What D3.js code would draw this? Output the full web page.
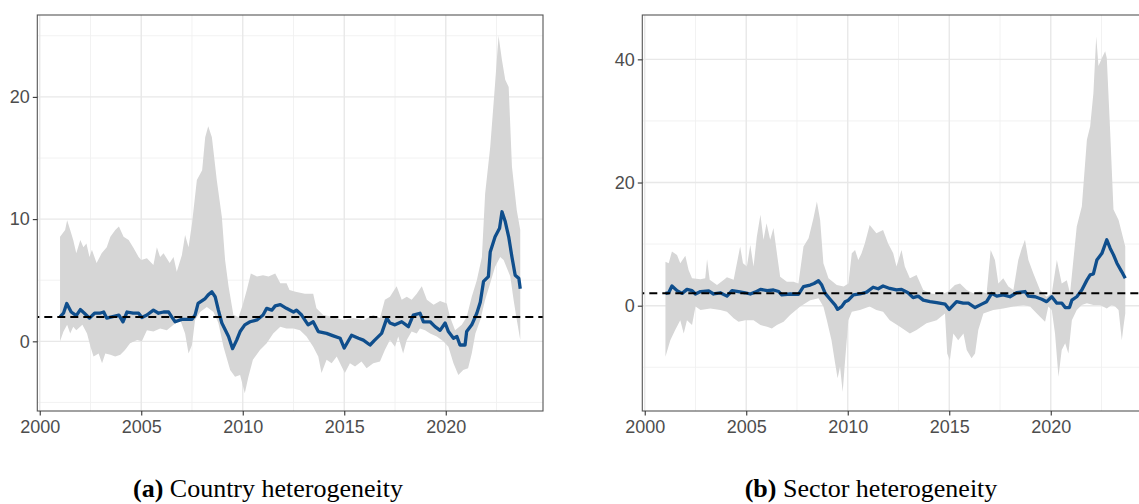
<!DOCTYPE html>
<html>
<head>
<meta charset="utf-8">
<script src="https://cdn.jsdelivr.net/npm/d3@7"></script>
<style>
  html, body { margin: 0; padding: 0; background: #fff; }
  svg { display: block; }
  .tick text { font-family: "Liberation Sans", Arial, sans-serif; }
</style>
</head>
<body>
<svg id="fig" width="1139" height="504"></svg>
<script>
// Shared axis ticks
const yearTicks = [2000, 2005, 2010, 2015, 2020];
const yearMinor = [2002.5, 2007.5, 2012.5, 2017.5, 2022.5];
const referenceLevel = 2;

// Panel (a): country heterogeneity — [year, value]
const countryMean = [
  [2001.0,2.0],[2001.17,2.3],[2001.33,3.1],[2001.55,2.4],[2001.8,2.1],[2002.0,2.6],[2002.2,2.3],
  [2002.45,1.9],[2002.7,2.3],[2002.95,2.3],[2003.15,2.4],[2003.3,1.9],[2003.55,2.0],[2003.9,2.15],
  [2004.1,1.6],[2004.3,2.4],[2004.6,2.3],[2004.87,2.3],[2005.03,1.95],[2005.28,2.15],[2005.6,2.55],
  [2005.85,2.3],[2006.1,2.4],[2006.35,2.4],[2006.5,2.0],[2006.67,1.6],[2007.0,1.8],[2007.5,1.8],
  [2007.65,2.15],[2007.8,3.1],[2008.15,3.5],[2008.3,3.8],[2008.48,4.05],[2008.64,3.65],[2008.8,2.55],
  [2008.97,1.5],[2009.3,0.4],[2009.5,-0.6],[2009.7,0.1],[2009.87,0.8],[2010.1,1.35],[2010.36,1.6],
  [2010.7,1.75],[2011.0,2.15],[2011.18,2.7],[2011.43,2.55],[2011.6,2.9],[2011.85,3.0],[2012.15,2.7],
  [2012.5,2.4],[2012.65,2.55],[2012.9,2.15],[2013.22,1.35],[2013.47,1.6],[2013.72,0.8],[2014.13,0.65],
  [2014.46,0.45],[2014.8,0.25],[2015.0,-0.55],[2015.36,0.5],[2015.7,0.25],[2015.94,0.1],[2016.27,-0.3],
  [2016.5,0.1],[2016.84,0.65],[2017.1,1.9],[2017.25,1.5],[2017.5,1.35],[2017.83,1.6],[2018.16,1.2],
  [2018.4,2.15],[2018.73,2.3],[2018.9,1.6],[2019.23,1.6],[2019.47,1.2],[2019.72,0.9],[2019.97,1.5],
  [2020.13,0.8],[2020.38,0.25],[2020.55,0.4],[2020.7,-0.3],[2020.95,-0.3],[2021.03,0.8],[2021.28,1.35],
  [2021.53,2.3],[2021.7,3.2],[2021.86,4.9],[2022.1,5.3],[2022.19,7.3],[2022.43,8.55],[2022.65,9.25],
  [2022.77,10.6],[2022.93,9.8],[2023.1,8.55],[2023.26,6.9],[2023.42,5.4],[2023.6,5.15],[2023.67,4.3]
];
const countryUpper = [
  [2001.0,8.55],[2001.25,9.1],[2001.35,9.9],[2001.5,9.1],[2001.65,8.3],[2001.8,7.2],[2002.0,8.3],
  [2002.15,7.7],[2002.3,8.0],[2002.45,6.9],[2002.57,7.5],[2002.8,6.4],[2003.05,7.2],[2003.3,7.7],
  [2003.48,8.55],[2003.72,9.1],[2003.9,9.4],[2004.13,8.55],[2004.38,8.3],[2004.6,7.7],[2004.87,6.9],
  [2005.0,6.65],[2005.28,6.8],[2005.6,6.25],[2005.77,7.7],[2005.93,6.9],[2006.1,7.2],[2006.4,6.4],
  [2006.59,6.9],[2006.75,5.7],[2007.0,7.05],[2007.16,8.7],[2007.33,7.7],[2007.5,9.65],[2007.74,13.2],
  [2008.0,14.0],[2008.15,16.7],[2008.3,17.6],[2008.48,16.7],[2008.72,13.2],[2008.97,10.2],[2009.13,6.65],
  [2009.3,4.5],[2009.54,2.15],[2009.8,2.0],[2010.0,3.0],[2010.2,4.2],[2010.4,5.55],[2010.7,5.3],
  [2011.0,5.4],[2011.27,5.3],[2011.6,5.55],[2011.85,4.75],[2012.16,4.75],[2012.3,4.2],[2012.6,4.05],
  [2013.06,3.9],[2013.47,3.9],[2013.63,2.7],[2013.96,2.15],[2014.45,2.0],[2014.95,1.75],[2015.44,1.9],
  [2015.94,1.75],[2016.43,2.15],[2016.76,1.9],[2017.0,3.4],[2017.25,3.65],[2017.58,4.5],[2017.83,3.4],
  [2018.08,3.65],[2018.32,3.4],[2018.57,3.9],[2018.82,4.5],[2019.07,3.4],[2019.4,3.0],[2019.72,3.3],
  [2020.05,3.1],[2020.21,2.0],[2020.46,0.9],[2020.79,1.35],[2021.03,2.0],[2021.28,3.65],[2021.53,5.0],
  [2021.78,6.9],[2021.94,12.1],[2022.19,15.9],[2022.43,21.1],[2022.6,25.0],[2022.77,23.0],[2022.93,21.4],
  [2023.1,20.8],[2023.26,14.3],[2023.5,10.7],[2023.67,9.1]
];
const countryLower = [
  [2001.0,0.0],[2001.17,0.8],[2001.35,1.35],[2001.5,0.65],[2001.65,1.2],[2001.8,0.9],[2002.1,1.35],
  [2002.33,0.65],[2002.5,-0.45],[2002.65,-1.25],[2002.9,-1.0],[2003.07,-1.8],[2003.23,-1.0],[2003.48,-1.1],
  [2003.72,-1.25],[2003.97,-1.1],[2004.2,-0.7],[2004.45,-0.15],[2004.8,0.1],[2005.03,0.0],[2005.28,0.9],
  [2005.6,0.8],[2005.93,1.05],[2006.26,0.9],[2006.59,1.35],[2006.92,1.75],[2007.16,0.65],[2007.33,-1.0],
  [2007.5,-0.3],[2007.65,1.75],[2007.9,2.4],[2008.23,2.8],[2008.56,2.4],[2008.8,1.5],[2009.05,-0.45],
  [2009.38,-2.35],[2009.62,-2.9],[2009.87,-2.75],[2010.1,-4.25],[2010.28,-2.9],[2010.5,-1.5],[2010.85,-0.7],
  [2011.18,-0.15],[2011.5,0.65],[2011.85,1.2],[2012.15,1.05],[2012.5,1.05],[2012.82,0.9],[2013.14,0.4],
  [2013.47,-0.45],[2013.72,-1.25],[2013.88,-2.6],[2014.13,-1.5],[2014.38,-1.8],[2014.63,-1.25],[2014.87,-2.05],
  [2015.03,-2.6],[2015.28,-1.8],[2015.53,-2.05],[2015.85,-1.65],[2016.1,-2.2],[2016.43,-1.8],[2016.76,-1.65],
  [2017.0,-0.7],[2017.25,0.1],[2017.5,-0.45],[2017.66,0.4],[2017.9,-1.0],[2018.08,0.1],[2018.32,0.8],
  [2018.57,0.65],[2018.73,1.05],[2018.98,0.9],[2019.23,0.65],[2019.56,0.4],[2019.88,0.0],[2020.13,-0.45],
  [2020.38,-1.8],[2020.62,-2.75],[2020.86,-2.35],[2021.1,-2.2],[2021.28,-1.0],[2021.46,0.65],[2021.7,1.75],
  [2021.94,3.4],[2022.19,4.75],[2022.43,6.1],[2022.68,6.9],[2022.85,6.65],[2023.18,5.3],[2023.34,3.4],
  [2023.5,1.75],[2023.67,0.1]
];

// Panel (b): sector heterogeneity — [year, value]
const sectorMean = [
  [2001.02,2.0],[2001.18,2.1],[2001.34,3.2],[2001.59,2.45],[2001.84,2.0],[2002.08,2.65],[2002.33,2.45],
  [2002.5,1.9],[2002.75,2.3],[2003.15,2.4],[2003.39,1.9],[2003.72,2.1],[2004.05,1.55],[2004.3,2.45],
  [2004.62,2.3],[2004.95,2.1],[2005.2,1.9],[2005.44,2.2],[2005.7,2.65],[2006.03,2.45],[2006.34,2.55],
  [2006.6,2.3],[2006.75,1.75],[2007.16,1.9],[2007.57,1.85],[2007.82,3.1],[2008.15,3.35],[2008.34,3.6],
  [2008.56,4.05],[2008.72,3.35],[2008.89,2.0],[2009.13,1.05],[2009.38,0.1],[2009.5,-0.6],[2009.7,-0.15],
  [2009.87,0.65],[2010.03,0.9],[2010.28,1.75],[2010.6,1.9],[2010.93,2.2],[2011.25,3.0],[2011.5,2.75],
  [2011.74,3.2],[2012.07,2.8],[2012.4,2.55],[2012.65,2.65],[2012.97,2.1],[2013.22,1.3],[2013.47,1.55],
  [2013.72,0.9],[2014.05,0.65],[2014.38,0.5],[2014.8,0.25],[2015.0,-0.6],[2015.36,0.65],[2015.69,0.4],
  [2015.94,0.4],[2016.27,-0.3],[2016.6,0.25],[2016.84,0.65],[2017.09,2.0],[2017.34,1.55],[2017.66,1.75],
  [2017.99,1.45],[2018.32,2.1],[2018.73,2.3],[2018.9,1.55],[2019.23,1.45],[2019.56,1.05],[2019.8,0.65],
  [2020.05,1.45],[2020.3,0.4],[2020.55,0.4],[2020.71,-0.3],[2020.92,-0.3],[2021.04,0.9],[2021.28,1.45],
  [2021.53,2.55],[2021.78,4.15],[2021.94,5.0],[2022.1,5.15],[2022.27,7.4],[2022.52,8.5],[2022.76,10.7],
  [2022.93,9.3],[2023.09,8.25],[2023.26,6.9],[2023.5,5.5],[2023.67,4.45]
];
const sectorUpper = [
  [2001.02,7.15],[2001.18,6.9],[2001.34,8.8],[2001.59,8.25],[2001.75,6.9],[2002.0,8.1],[2002.16,5.8],
  [2002.33,4.45],[2002.75,4.3],[2002.98,4.45],[2003.07,7.55],[2003.2,4.2],[2003.56,3.35],[2003.9,4.2],
  [2004.05,4.6],[2004.38,4.2],[2004.7,9.6],[2004.84,6.9],[2005.03,6.35],[2005.2,9.85],[2005.36,6.35],
  [2005.52,11.2],[2005.7,14.75],[2005.85,10.7],[2006.0,13.4],[2006.18,10.7],[2006.34,12.6],[2006.51,8.5],
  [2006.67,4.7],[2007.0,3.9],[2007.33,3.9],[2007.57,3.6],[2007.82,9.6],[2008.07,10.95],[2008.31,14.2],
  [2008.48,16.9],[2008.64,13.9],[2008.8,6.9],[2009.05,4.45],[2009.46,3.35],[2009.8,3.1],[2010.03,3.6],
  [2010.2,8.5],[2010.36,9.05],[2010.52,7.4],[2010.68,8.5],[2010.84,10.1],[2011.08,13.1],[2011.41,11.75],
  [2011.74,12.3],[2011.99,10.1],[2012.24,8.5],[2012.4,6.35],[2012.65,9.05],[2012.81,6.35],[2013.06,4.45],
  [2013.39,5.0],[2013.72,2.55],[2014.05,2.0],[2014.54,1.75],[2014.95,2.3],[2015.28,3.35],[2015.53,3.6],
  [2015.86,2.55],[2016.18,2.0],[2016.51,2.3],[2016.84,2.0],[2017.04,9.05],[2017.25,7.4],[2017.42,3.6],
  [2017.66,4.45],[2017.91,3.1],[2018.16,2.55],[2018.4,7.4],[2018.57,9.3],[2018.73,10.7],[2018.9,7.4],
  [2019.14,5.25],[2019.47,2.55],[2019.8,1.45],[2020.05,2.0],[2020.3,7.4],[2020.54,3.6],[2020.79,4.15],
  [2020.95,2.0],[2021.28,12.85],[2021.53,16.1],[2021.78,26.95],[2021.94,29.1],[2022.1,34.5],[2022.24,43.7],
  [2022.35,38.9],[2022.52,40.2],[2022.68,41.3],[2022.76,40.2],[2022.93,28.0],[2023.09,15.6],[2023.34,13.9],
  [2023.67,9.6]
];
const sectorLower = [
  [2001.02,-8.3],[2001.26,-5.6],[2001.5,-3.95],[2001.75,-2.35],[2001.92,-4.5],[2002.08,-2.35],[2002.33,-3.15],
  [2002.5,-0.15],[2002.75,-0.7],[2003.23,-0.45],[2003.72,-0.7],[2004.05,-1.0],[2004.38,-2.05],[2004.62,-2.6],
  [2004.95,-2.35],[2005.36,-2.35],[2005.7,-3.15],[2006.03,-3.4],[2006.26,-3.7],[2006.51,-3.15],[2006.84,-2.6],
  [2007.16,-1.5],[2007.66,-0.15],[2008.15,0.9],[2008.56,1.2],[2008.8,-0.15],[2008.97,-2.35],[2009.2,-5.6],
  [2009.38,-9.4],[2009.5,-11.8],[2009.62,-9.9],[2009.75,-14.0],[2009.87,-8.85],[2010.03,-2.35],[2010.2,-1.0],
  [2010.6,-0.7],[2011.08,-0.15],[2011.41,-0.7],[2011.74,-1.0],[2012.07,-2.35],[2012.57,-3.4],[2013.06,-4.5],
  [2013.39,-3.95],[2013.88,-2.85],[2014.38,-2.35],[2014.79,-1.25],[2014.9,-7.75],[2015.03,-8.85],[2015.2,-4.5],
  [2015.44,-5.6],[2015.7,-4.5],[2015.86,-7.2],[2016.1,-8.55],[2016.27,-7.75],[2016.43,-3.95],[2016.68,-1.25],
  [2016.92,-1.0],[2017.17,-0.7],[2017.66,-0.45],[2018.16,-0.15],[2018.65,0.1],[2018.98,-0.15],[2019.23,-1.0],
  [2019.47,-1.8],[2019.72,-2.6],[2019.88,-0.15],[2020.05,-0.7],[2020.21,-4.5],[2020.38,-11.55],[2020.54,-7.2],
  [2020.71,-6.1],[2020.87,-7.75],[2021.04,-2.35],[2021.28,-0.7],[2021.53,0.1],[2021.78,0.4],[2022.1,0.1],
  [2022.43,0.1],[2022.76,-0.45],[2023.0,0.1],[2023.17,-0.15],[2023.34,-0.7],[2023.5,-5.6],[2023.58,-3.4],
  [2023.67,-1.25]
];

const panels = [
  {
    mean: countryMean, upper: countryUpper, lower: countryLower,
    left: 37.3, right: 543, top: 15, bottom: 411,
    yDomain: [-5.7, 26.7], yTicks: [0, 10, 20], yMinor: [-5, 5, 15, 25],
    caption: ["(a)", " Country heterogeneity"], captionX: 268
  },
  {
    mean: sectorMean, upper: sectorUpper, lower: sectorLower,
    left: 642.3, right: 1148, top: 15, bottom: 411,
    yDomain: [-17.1, 47.2], yTicks: [0, 20, 40], yMinor: [-10, 10, 30],
    caption: ["(b)", " Sector heterogeneity"], captionX: 871
  }
];

const svg = d3.select("#fig");
const xDomain = [1999.88, 2024.79];

panels.forEach((p, i) => {
  const x = d3.scaleLinear().domain(xDomain).range([p.left, p.right]);
  const y = d3.scaleLinear().domain(p.yDomain).range([p.bottom, p.top]);
  const g = svg.append("g");

  const clipId = "clip" + i;
  g.append("clipPath").attr("id", clipId).append("rect")
    .attr("x", p.left).attr("y", p.top)
    .attr("width", p.right - p.left).attr("height", p.bottom - p.top);

  const plot = g.append("g").attr("clip-path", `url(#${clipId})`);

  // background
  plot.append("rect").attr("x", p.left).attr("y", p.top)
    .attr("width", p.right - p.left).attr("height", p.bottom - p.top)
    .attr("fill", "#fff");

  // minor grid
  plot.selectAll(".vminor").data(yearMinor).join("line")
    .attr("x1", d => x(d)).attr("x2", d => x(d))
    .attr("y1", p.top).attr("y2", p.bottom)
    .attr("stroke", "#f0f0f0").attr("stroke-width", 0.9);
  plot.selectAll(".hminor").data(p.yMinor).join("line")
    .attr("x1", p.left).attr("x2", p.right)
    .attr("y1", d => y(d)).attr("y2", d => y(d))
    .attr("stroke", "#f0f0f0").attr("stroke-width", 0.9);
  // major grid
  plot.selectAll(".vmajor").data(yearTicks).join("line")
    .attr("x1", d => x(d)).attr("x2", d => x(d))
    .attr("y1", p.top).attr("y2", p.bottom)
    .attr("stroke", "#e8e8e8").attr("stroke-width", 1.4);
  plot.selectAll(".hmajor").data(p.yTicks).join("line")
    .attr("x1", p.left).attr("x2", p.right)
    .attr("y1", d => y(d)).attr("y2", d => y(d))
    .attr("stroke", "#e8e8e8").attr("stroke-width", 1.4);

  // confidence band: upper edge forward, lower edge back
  const band = p.upper.concat(p.lower.slice().reverse());
  const poly = d3.line().x(d => x(d[0])).y(d => y(d[1]));
  plot.append("path").attr("d", poly(band) + "Z")
    .attr("fill", "#d6d6d6").attr("stroke", "none");

  // estimate
  plot.append("path").attr("d", poly(p.mean))
    .attr("fill", "none").attr("stroke", "#0f4e8c")
    .attr("stroke-width", 3.3).attr("stroke-linejoin", "round");

  // reference level
  plot.append("line")
    .attr("x1", p.left).attr("x2", p.right)
    .attr("y1", y(referenceLevel)).attr("y2", y(referenceLevel))
    .attr("stroke", "#000").attr("stroke-width", 2)
    .attr("stroke-dasharray", "8,5").attr("stroke-dashoffset", -7);

  // panel border
  g.append("rect").attr("x", p.left).attr("y", p.top)
    .attr("width", p.right - p.left).attr("height", p.bottom - p.top)
    .attr("fill", "none").attr("stroke", "#555").attr("stroke-width", 1.1);

  // axes
  const xAxis = g.append("g").attr("transform", `translate(0,${p.bottom})`)
    .call(d3.axisBottom(x).tickValues(yearTicks).tickFormat(d3.format("d"))
      .tickSize(4.5).tickPadding(4.5));
  const yAxis = g.append("g").attr("transform", `translate(${p.left},0)`)
    .call(d3.axisLeft(y).tickValues(p.yTicks).tickFormat(d3.format("d"))
      .tickSize(4.5).tickPadding(3));
  [xAxis, yAxis].forEach(a => {
    a.select(".domain").remove();
    a.selectAll(".tick line").attr("stroke", "#333").attr("stroke-width", 1.1);
    a.selectAll(".tick text").attr("fill", "#4d4d4d")
      .style("font-size", "18px");
  });

  // caption
  const cap = svg.append("text")
    .attr("x", p.captionX).attr("y", 497)
    .attr("text-anchor", "middle")
    .style("font-family", "'Liberation Serif', 'Times New Roman', serif")
    .style("font-size", "26px").attr("fill", "#000");
  cap.append("tspan").attr("font-weight", "bold").text(p.caption[0]);
  cap.append("tspan").text(p.caption[1]);
});
</script>
</body>
</html>
